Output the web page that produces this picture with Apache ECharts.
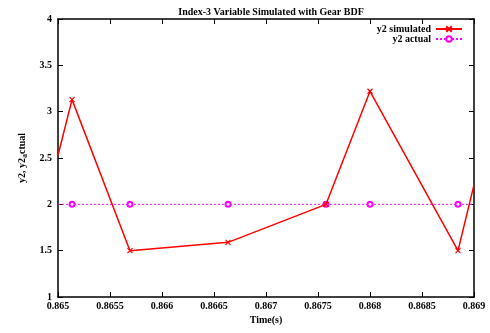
<!DOCTYPE html>
<html>
<head>
<meta charset="utf-8">
<script src="https://cdn.jsdelivr.net/npm/echarts@6/dist/echarts.min.js"></script>
<style>html,body{margin:0;padding:0;background:#fff}#c{width:490px;height:333px}</style>
</head>
<body>
<div id="c"></div>
<script>
// Data
var simTime = [0.865, 0.865135, 0.865692, 0.866635, 0.867577, 0.868, 0.868846, 0.869];
var simValue = [2.53, 3.13, 1.50, 1.59, 2.00, 3.22, 1.50, 2.21];
var simEdge = [true, false, false, false, false, false, false, true];
var actTime = [0.865, 0.865135, 0.865692, 0.866635, 0.867577, 0.868, 0.868846, 0.869];
var actValue = [2, 2, 2, 2, 2, 2, 2, 2];
var actEdge = [true, false, false, false, false, false, false, true];
var xTicks = ['0.865','0.8655','0.866','0.8665','0.867','0.8675','0.868','0.8685','0.869'];
var yTicks = ['1','1.5','2','2.5','3','3.5','4'];

var font = 'Liberation Serif';
function pts(t, v, e) {
  return t.map(function (x, i) {
    var d = { value: [x, v[i]] };
    if (e[i]) d.symbol = 'none';
    return d;
  });
}
var chart = echarts.init(document.getElementById('c'), null, { renderer: 'canvas' });
var axisCommon = {
  axisLine: { show: true, lineStyle: { color: '#000', width: 1.5 } },
  axisTick: { show: true, inside: true, length: 5, lineStyle: { color: '#000', width: 1 } },
  splitLine: { show: false }
};
chart.setOption({
  animation: false,
  title: {
    text: 'Index-3 Variable Simulated with Gear BDF',
    left: 266, textAlign: 'center', top: 2,
    textStyle: { fontFamily: font, fontWeight: 'bold', fontSize: 10, color: '#000' }
  },
  grid: { left: 58, right: 16, top: 19, bottom: 36 },
  legend: {
    right: 27, top: 24, orient: 'vertical', align: 'right', padding: 0,
    itemWidth: 26, itemHeight: 7, itemGap: 0,
    textStyle: { fontFamily: font, fontWeight: 'bold', fontSize: 10, color: '#000', lineHeight: 9, height: 9 },
    data: ['y2 simulated', 'y2 actual']
  },
  xAxis: [
    Object.assign({
      type: 'value', min: 0.865, max: 0.869, interval: 0.0005,
      name: 'Time(s)', nameLocation: 'middle', nameGap: 17,
      nameTextStyle: { fontFamily: font, fontWeight: 'bold', fontSize: 10, color: '#000' },
      axisLabel: {
        fontFamily: font, fontWeight: 'bold', fontSize: 10, color: '#000', margin: 4,
        formatter: function (v) {
          var i = Math.round((v - 0.865) / 0.0005);
          return xTicks[i] !== undefined ? xTicks[i] : '';
        }
      }
    }, axisCommon),
    Object.assign({
      type: 'value', min: 0.865, max: 0.869, interval: 0.0005, position: 'top',
      axisLabel: { show: false }
    }, axisCommon)
  ],
  yAxis: [
    Object.assign({
      type: 'value', min: 1, max: 4, interval: 0.5,
      name: 'y2, y2{s|a}ctual', nameLocation: 'middle', nameGap: 28, nameRotate: 90,
      nameTextStyle: {
        fontFamily: font, fontWeight: 'bold', fontSize: 10, color: '#000',
        rich: { s: { fontFamily: font, fontWeight: 'bold', fontSize: 8, color: '#000', padding: [5, 0, 0, 0] } }
      },
      axisLabel: {
        fontFamily: font, fontWeight: 'bold', fontSize: 10, color: '#000', margin: 6,
        formatter: function (v) {
          var i = Math.round((v - 1) / 0.5);
          return yTicks[i] !== undefined ? yTicks[i] : '';
        }
      }
    }, axisCommon),
    Object.assign({
      type: 'value', min: 1, max: 4, interval: 0.5, position: 'right',
      axisLabel: { show: false }
    }, axisCommon)
  ],
  series: [
    {
      name: 'y2 simulated', type: 'line', xAxisIndex: 0, yAxisIndex: 0,
      data: pts(simTime, simValue, simEdge),
      symbol: 'path://M0,0L10,10M10,0L0,10', symbolSize: 5,
      itemStyle: { color: '#ff0000', borderColor: '#ff0000', borderWidth: 1.2 },
      lineStyle: { color: '#ff0000', width: 1.5 },
      z: 3
    },
    {
      name: 'y2 actual', type: 'line', xAxisIndex: 0, yAxisIndex: 0,
      data: pts(actTime, actValue, actEdge),
      symbol: 'emptyCircle', symbolSize: 5,
      itemStyle: { color: '#ff00ff', borderColor: '#ff00ff', borderWidth: 1.2 },
      lineStyle: { color: '#ff00ff', width: 1, type: [2, 2] },
      z: 2
    }
  ]
});
</script>
</body>
</html>
